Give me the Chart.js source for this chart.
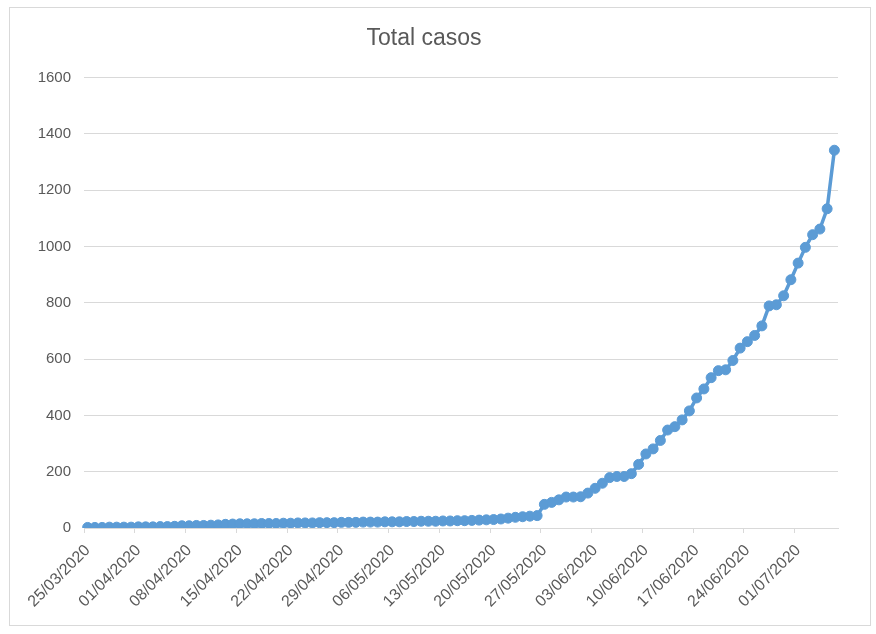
<!DOCTYPE html>
<html>
<head>
<meta charset="utf-8">
<script src="https://cdn.jsdelivr.net/npm/chart.js@4/dist/chart.umd.min.js"></script>
<style>
    html, body { margin: 0; padding: 0; background: #ffffff; }
    #frame {
        position: absolute;
        left: 9px;
        top: 7px;
        width: 862px;
        height: 619px;
        box-sizing: border-box;
        border: 1px solid #d9d9d9;
        background: #ffffff;
    }
    #casesChart { display: block; }
</style>
</head>
<body>
<div id="frame"><canvas id="casesChart" width="860" height="617"></canvas></div>
<script>
// one point per day, 25/03/2020 .. 06/07/2020
const startDay = new Date(2020, 2, 25);
const dayCount = 104;
const dates = [];
for (let i = 0; i < dayCount; i++) {
    const d = new Date(startDay.getFullYear(), startDay.getMonth(), startDay.getDate() + i);
    const dd = String(d.getDate()).padStart(2, '0');
    const mm = String(d.getMonth() + 1).padStart(2, '0');
    dates.push(dd + '/' + mm + '/' + d.getFullYear());
}

const totalCasos = [
    2, 2, 2, 3, 3, 3, 3,
    4, 4, 4, 5, 5, 6, 8,
    8, 9, 9, 10, 11, 13, 14,
    15, 15, 15, 16, 16, 16, 17,
    17, 18, 18, 18, 19, 19, 19,
    20, 20, 20, 21, 21, 21, 22,
    22, 22, 23, 23, 24, 24, 24,
    25, 25, 26, 26, 27, 28, 29,
    30, 32, 35, 38, 40, 42, 44,
    84, 91, 100, 110, 110, 111, 124,
    141, 159, 179, 183, 183, 193, 226,
    263, 281, 311, 348, 360, 384, 416,
    462, 494, 534, 559, 562, 595, 639,
    662, 684, 718, 789, 793, 825, 882,
    941, 997, 1042, 1062, 1134, 1342
];

const yTicks = [0, 200, 400, 600, 800, 1000, 1200, 1400, 1600];
const labelEvery = 7;

const lineBlue = '#5b9bd5';
const gridGrey = '#d9d9d9';
const textGrey = '#595959';

Chart.defaults.font.family = "'Liberation Sans', Arial, sans-serif";
Chart.defaults.color = textGrey;

const casesChart = document.getElementById('casesChart');

new Chart(casesChart, {
    type: 'line',
    data: {
        labels: dates,
        datasets: [{
            label: 'Total casos',
            data: totalCasos,
            borderColor: lineBlue,
            backgroundColor: lineBlue,
            borderWidth: 3.5,
            pointRadius: 5,
            pointBorderWidth: 1,
            pointBackgroundColor: lineBlue,
            pointBorderColor: lineBlue,
            tension: 0
        }]
    },
    options: {
        responsive: false,
        animation: false,
        layout: {
            padding: { left: 0, right: 32, top: 0, bottom: 0 }
        },
        scales: {
            x: {
                type: 'category',
                offset: true,
                grid: {
                    offset: true,
                    drawOnChartArea: false,
                    drawTicks: true,
                    tickLength: 5,
                    tickColor: (ctx) => (ctx.index % labelEvery === 0 ? gridGrey : 'rgba(0,0,0,0)')
                },
                border: { color: gridGrey, width: 1 },
                ticks: {
                    autoSkip: false,
                    maxRotation: 45,
                    minRotation: 45,
                    padding: 8,
                    color: textGrey,
                    font: { size: 16 },
                    callback: function (value, index) {
                        return index % labelEvery === 0 ? this.getLabelForValue(value) : '';
                    }
                },
                afterFit: (scale) => { scale.height = 97; }
            },
            y: {
                min: 0,
                max: 1600,
                afterBuildTicks: (scale) => {
                    scale.ticks = yTicks.map((v) => ({ value: v }));
                },
                grid: {
                    color: gridGrey,
                    lineWidth: 1,
                    drawTicks: false
                },
                border: { display: false },
                ticks: {
                    padding: 13,
                    color: textGrey,
                    font: { size: 15 },
                    callback: (value) => String(value)
                },
                afterFit: (scale) => { scale.width = 74; }
            }
        },
        plugins: {
            legend: { display: false },
            tooltip: { enabled: false },
            title: {
                display: true,
                text: 'Total casos',
                color: textGrey,
                font: { size: 23, weight: 'normal' },
                padding: { top: 17, bottom: 25 }
            }
        }
    }
});
</script>
</body>
</html>
